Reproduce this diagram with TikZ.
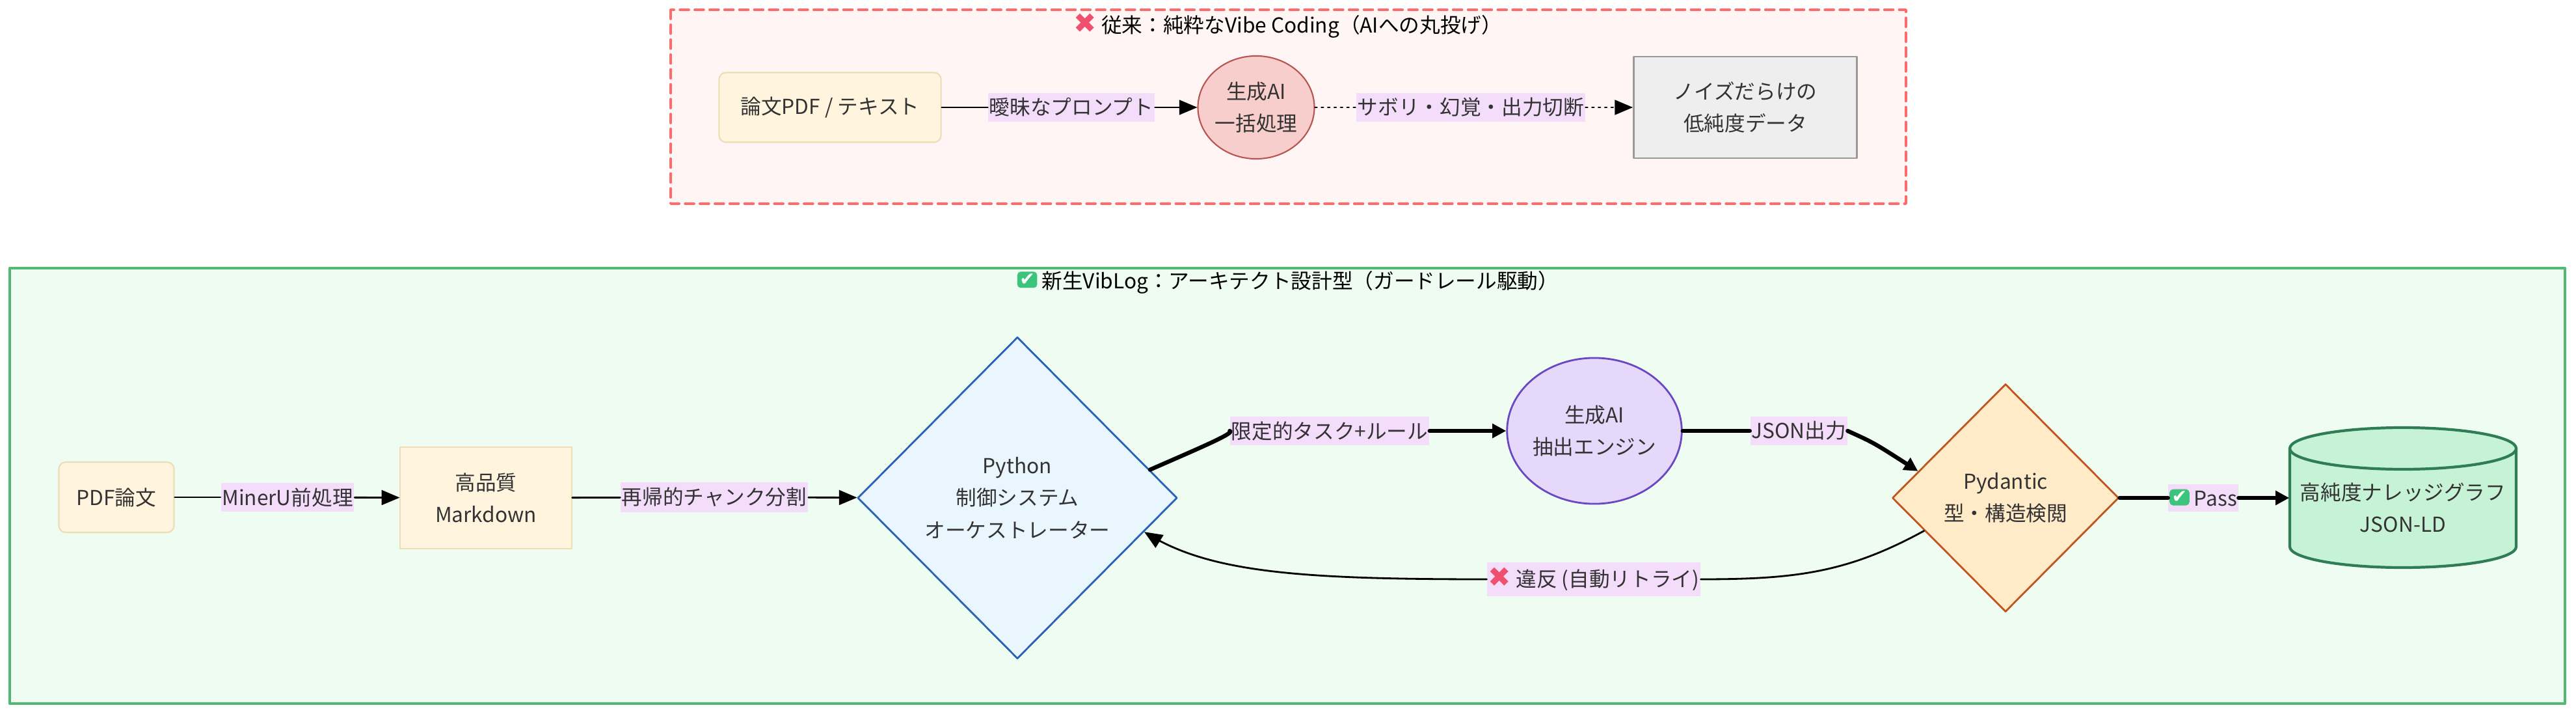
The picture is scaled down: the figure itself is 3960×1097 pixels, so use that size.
\documentclass[tikz,border=0pt]{standalone}
\usepackage{fontspec}
\setmainfont{Noto Sans CJK JP}
\newfontfamily\symfnt{DejaVu Sans}
\usetikzlibrary{arrows,arrows.meta,shapes.geometric}
\definecolor{txtgray}{HTML}{333333}
\definecolor{lblbg}{HTML}{F3DDFB}
\definecolor{oldfill}{HTML}{FFF5F5}
\definecolor{olddraw}{HTML}{FF6B6B}
\definecolor{newfill}{HTML}{EEFCF1}
\definecolor{newdraw}{HTML}{52B876}
\definecolor{docfill}{HTML}{FFF4DD}
\definecolor{docdraw}{HTML}{EBDDB5}
\definecolor{aifill}{HTML}{F8CECC}
\definecolor{aidraw}{HTML}{B85450}
\definecolor{nzfill}{HTML}{EEEEEE}
\definecolor{nzdraw}{HTML}{999999}
\definecolor{pyfill}{HTML}{EAF6FD}
\definecolor{pydraw}{HTML}{2A62B8}
\definecolor{engfill}{HTML}{E6D8FB}
\definecolor{engdraw}{HTML}{6A48C4}
\definecolor{pdfill}{HTML}{FFEBC8}
\definecolor{pddraw}{HTML}{C2561E}
\definecolor{kgfill}{HTML}{C6F3D5}
\definecolor{kgdraw}{HTML}{2E7D55}
\definecolor{xred}{HTML}{F0506E}
\definecolor{okgreen}{HTML}{3CC47C}
\newcommand{\ngmark}{{\color{xred}\symfnt\large ✖}}
\newcommand{\okmark}{\tikz[baseline=-0.8ex]\node[fill=okgreen,rounded corners=1.5pt,text=white,inner sep=1pt,font=\symfnt\footnotesize]{✔};}
\tikzset{
  lbl/.style={fill=lblbg,inner xsep=0.5pt,inner ysep=2.2pt,text=txtgray},
  doc/.style={draw=docdraw,fill=docfill,line width=0.6pt,text=txtgray,align=center},
  thin/.style={draw=black,line width=0.8pt},
  thick/.style={draw=black,line width=1.8pt,>={Triangle[length=6pt,width=6pt]}}
}

\begin{document}
\begin{tikzpicture}[line cap=round,line join=round,>=triangle 45,x=0.01cm,y=-0.01cm,font=\fontsize{9}{14}\selectfont]
\useasboundingbox (0,0) rectangle (3960,1097);
% old approach
\draw[olddraw,fill=oldfill,dashed,line width=1pt,dash pattern=on 4pt off 2.5pt] (1031,15) rectangle (2930,313);
\node[text=black] (oldtitle) at (1980,40) {\ngmark\ 従来：純粋なVibe Coding（AIへの丸投げ）};
\node[doc,rounded corners=3pt,minimum width=3.41cm,minimum height=1.07cm] (paper) at (1276,165) {論文PDF / テキスト};
\node[ellipse,draw=aidraw,fill=aifill,line width=0.6pt,minimum width=1.56cm,minimum height=1.58cm,inner sep=0pt,align=center,text=txtgray] (bulk) at (1931,165) {生成AI\\一括処理};
\node[draw=nzdraw,fill=nzfill,line width=0.8pt,minimum width=3.43cm,minimum height=1.56cm,align=center,text=txtgray] (noise) at (2683,165) {ノイズだらけの\\低純度データ};
\node[lbl] (vague) at (1647,165) {曖昧なプロンプト};
\node[lbl] (fail) at (2261,165) {サボリ・幻覚・出力切断};
\draw[thin] (paper) -- (vague);
\draw[thin,->] (vague) -- (bulk);
\draw[thin,dotted] (bulk) -- (fail);
\draw[thin,dotted,->] (fail) -- (noise);
% new approach
\draw[newdraw,fill=newfill,line width=1.2pt] (15,412) rectangle (3943,1081);
\node[text=black] (newtitle) at (1980,434) {\okmark\ 新生VibLog：アーキテクト設計型（ガードレール駆動）};
\node[doc,rounded corners=3pt,minimum width=1.77cm,minimum height=1.08cm] (pdf) at (179,764) {PDF論文};
\node[doc,minimum width=2.63cm,minimum height=1.56cm] (md) at (747,765) {高品質\\Markdown};
\node[diamond,draw=pydraw,fill=pyfill,line width=0.8pt,minimum width=4.91cm,minimum height=4.94cm,inner sep=0pt,align=center,text=txtgray] (py) at (1564,765) {Python\\制御システム\\オーケストレーター};
\node[ellipse,draw=engdraw,fill=engfill,line width=0.8pt,minimum width=2.21cm,minimum height=2.24cm,inner sep=0pt,align=center,text=txtgray] (eng) at (2451,662) {生成AI\\抽出エンジン};
\node[diamond,draw=pddraw,fill=pdfill,line width=0.8pt,minimum width=3.48cm,minimum height=3.5cm,inner sep=0pt,align=center,text=txtgray] (pyd) at (3083,765) {Pydantic\\型・構造検閲};
% knowledge graph cylinder
\fill[kgfill] (3520,689) -- (3520,840) arc[start angle=180,end angle=0,x radius=174,y radius=32] -- (3868,689) -- cycle;
\draw[kgdraw,line width=1.2pt] (3520,689) -- (3520,840) arc[start angle=180,end angle=0,x radius=174,y radius=32] -- (3868,689);
\draw[kgdraw,fill=kgfill,line width=1.2pt] (3694,689) ellipse[x radius=174,y radius=32];
\node[minimum width=3.48cm,align=center,text=txtgray] (kg) at (3694,780) {高純度ナレッジグラフ\\JSON-LD};
\node[lbl] (miner) at (442,764) {MinerU前処理};
\node[lbl] (chunk) at (1098,764) {再帰的チャンク分割};
\node[lbl] (task) at (2044,662) {限定的タスク+ルール};
\node[lbl] (json) at (2765,662) {JSON出力};
\node[lbl] (pass) at (3387,765) {\okmark\ Pass};
\node[lbl] (retry) at (2450,890) {\ngmark\ 違反 (自動リトライ)};
\draw[thin] (pdf) -- (miner);
\draw[thin,->] (miner) -- (md);
\draw[thin] (md) -- (chunk);
\draw[thin,->] (chunk) -- (py);
\draw[thick] (py.12) .. controls (1840,690) and (1900,665) .. (task.west);
\draw[thick,->] (task.east) -- (eng.west);
\draw[thick] (eng.east) .. controls (2640,662) .. (json.west);
\draw[thick,->] (json.east) .. controls (2880,680) .. (pyd.163);
\draw[thick] (pyd.east) -- (pass.west);
\draw[thick,->] (pass.east) -- (pass.east -| kg.west);
\draw[thin] (pyd.202) .. controls (2840,880) and (2760,890) .. (retry.east);
\draw[thin,->] (retry.west) .. controls (2000,890) and (1860,880) .. (py.-15);
\end{tikzpicture}
\end{document}
